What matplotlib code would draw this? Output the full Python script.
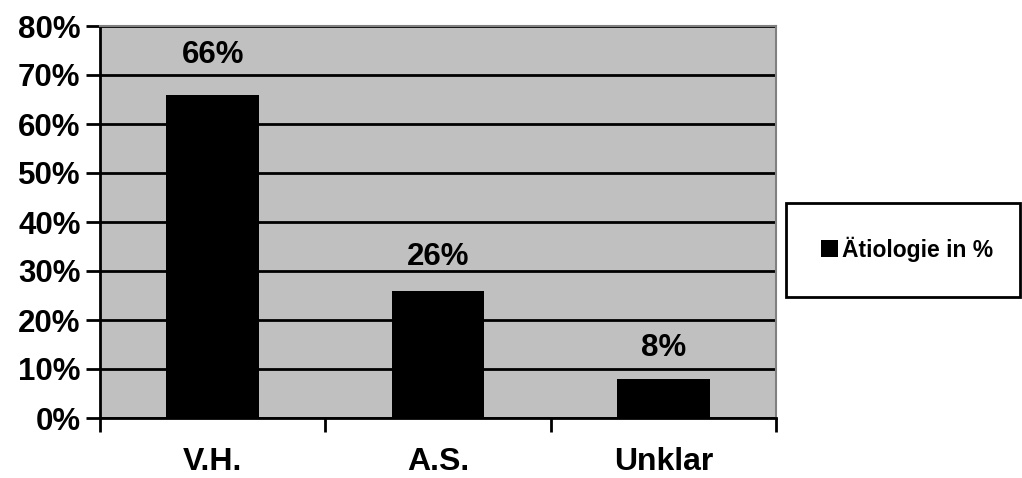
import matplotlib.pyplot as plt
from matplotlib.patches import Rectangle
import numpy as np

categories = ['V.H.', 'A.S.', 'Unklar']
values = [66, 26, 8]
series_name = 'Ätiologie in %'

plt.rcParams['font.family'] = ['Liberation Sans', 'DejaVu Sans']
plt.rcParams['font.weight'] = 'bold'

W, H = 1022, 478
fig = plt.figure(figsize=(W/100, H/100), dpi=100)
ax = fig.add_axes([100/W, (H-418)/H, 676/W, 392/H])
ax.set_facecolor('#c0c0c0')

x = np.arange(len(categories))
bars = ax.bar(x, values, width=0.41, color='black', zorder=3, label=series_name)
for xi, v in zip(x, values):
    gap = (15 + 0.14*v) * 0.72
    ax.annotate(f'{v}%', (xi, v), xytext=(0, gap), textcoords='offset points',
                ha='center', va='bottom', fontsize=22.5, fontweight='bold')

ax.set_xlim(-0.5, len(categories)-0.5)
ax.set_ylim(0, 80)
ax.set_yticks(np.arange(0, 81, 10))
ax.set_yticklabels([f'{t}%' for t in range(0, 81, 10)], fontsize=22.5, fontweight='bold')
ax.yaxis.grid(True, color='black', linewidth=2, zorder=1)
ax.set_axisbelow(True)
ax.tick_params(axis='y', length=10, width=2, pad=4)

ax.set_xticks(x)
ax.set_xticklabels(categories, fontsize=23, fontweight='bold')
ax.tick_params(axis='x', which='major', length=0, pad=21)
ax.set_xticks(np.arange(-0.5, len(categories), 1), minor=True)
ax.tick_params(axis='x', which='minor', length=10, width=2)

for side in ['top', 'right']:
    ax.spines[side].set_color('#808080')
    ax.spines[side].set_linewidth(1.5)
for side in ['left', 'bottom']:
    ax.spines[side].set_color('black')
    ax.spines[side].set_linewidth(2)

# legend box
fig.patches.append(Rectangle((786/W, 1-297/H), 234/W, 94/H, transform=fig.transFigure,
                             facecolor='white', edgecolor='black', linewidth=2))
leg = fig.legend(handles=[bars], labels=[series_name], loc='center',
                 bbox_to_anchor=(907/W, 1-249/H), frameon=False,
                 fontsize=16.5, handlelength=0.75, handleheight=0.75,
                 handletextpad=0.15, borderpad=0, borderaxespad=0)
for t in leg.get_texts():
    t.set_fontweight('bold')

fig.savefig('out.png', dpi=100)
